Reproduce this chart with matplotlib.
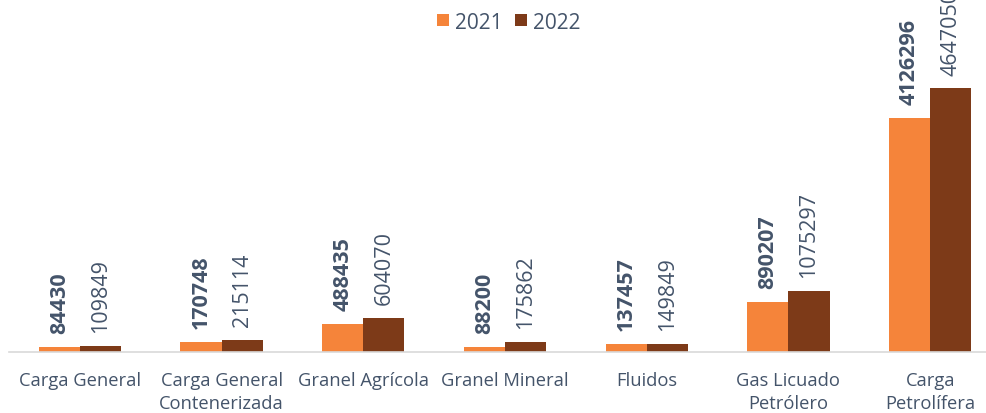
import matplotlib.pyplot as plt
import numpy as np

# Datos por tipo de carga
categorias = ['Carga General', 'Carga General\nContenerizada', 'Granel Agrícola',
              'Granel Mineral', 'Fluidos', 'Gas Licuado\nPetrólero', 'Carga\nPetrolífera']
valores_2021 = [84430, 170748, 488435, 88200, 137457, 890207, 4126296]
valores_2022 = [109849, 215114, 604070, 175862, 149849, 1075297, 4647050]

color_2021 = '#F5843A'
color_2022 = '#7D3A18'
color_texto = '#44546A'

fig = plt.figure(figsize=(9.87, 4.14), dpi=100)
# el grafico original esta recortado a la derecha
ax = fig.add_axes([9 / 987, (414 - 353) / 414, 992 / 987, 353 / 414])

x = np.arange(len(categorias))
ancho = 0.29

b1 = ax.bar(x - ancho / 2, valores_2021, ancho, color=color_2021, label='2021')
b2 = ax.bar(x + ancho / 2, valores_2022, ancho, color=color_2022, label='2022')

escala = 353 / 234 * 4126296
ax.set_ylim(0, escala)
ax.set_xlim(-0.5, len(categorias) - 0.5)

for rect, v in zip(b1, valores_2021):
    ax.annotate(str(v), (rect.get_x() + rect.get_width() / 2, v), xytext=(0, 10),
                textcoords='offset points', rotation=90, ha='center', va='bottom',
                fontsize=15.5, fontweight='bold', color=color_texto, family='Open Sans',
                annotation_clip=False)
for rect, v in zip(b2, valores_2022):
    ax.annotate(str(v), (rect.get_x() + rect.get_width() / 2, v), xytext=(0, 10),
                textcoords='offset points', rotation=90, ha='center', va='bottom',
                fontsize=15.5, color=color_texto, family='Open Sans',
                annotation_clip=False)

ax.set_xticks(x)
ax.set_xticklabels(categorias, fontsize=13.2, color=color_texto, family='Open Sans',
                   linespacing=1.35)
ax.tick_params(axis='x', length=0, pad=14)
ax.set_yticks([])
for lado in ['top', 'right', 'left']:
    ax.spines[lado].set_visible(False)
ax.spines['bottom'].set_color('#D9D9D9')
ax.spines['bottom'].set_linewidth(1.2)

fig.legend(loc='upper center', bbox_to_anchor=(509 / 987, 1.015), ncol=2, frameon=False,
           prop={'family': 'Open Sans', 'size': 15}, labelcolor=color_texto,
           handlelength=0.55, handleheight=0.55, handletextpad=0.3, columnspacing=0.6)

fig.savefig('out.png', dpi=100)
